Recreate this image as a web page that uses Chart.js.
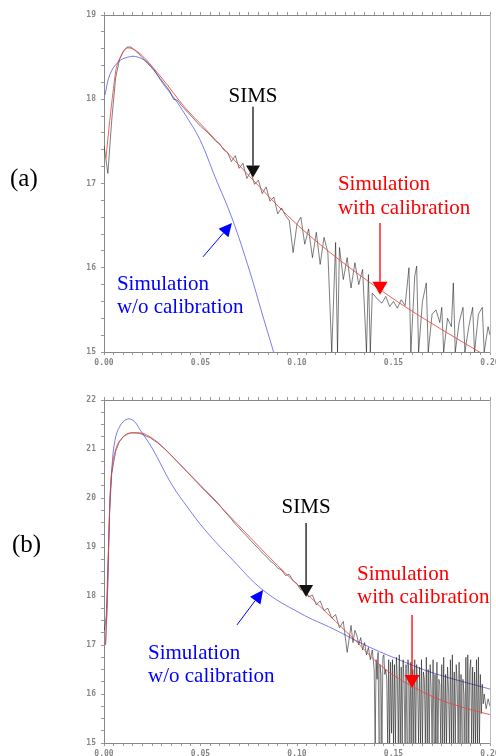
<!DOCTYPE html>
<html>
<head>
<meta charset="utf-8">
<script src="https://cdn.jsdelivr.net/npm/chart.js@4.4.1/dist/chart.umd.min.js"></script>
<style>
  body { margin: 0; background: #fff; width: 496px; height: 756px; position: relative; overflow: hidden; }
  canvas { position: absolute; left: 0; }
  #chartA { top: 0; }
  #chartB { top: 385px; }
  .tag { position: absolute; font-family: "Liberation Serif", "Times New Roman", serif; font-size: 25px; color: #000; }
</style>
</head>
<body>
<canvas id="chartA" width="496" height="378"></canvas>
<canvas id="chartB" width="496" height="371"></canvas>
<div class="tag" style="left:10px; top:164px">(a)</div>
<div class="tag" style="left:12px; top:530px">(b)</div>
<script>
// depth (um) vs log10 concentration

// (a)
const simsA = [
  [0.000,17.45],[0.002,17.12],[0.004,17.75],[0.006,18.25],[0.008,18.47],[0.010,18.57],[0.012,18.62],[0.014,18.62],
  [0.016,18.58],[0.018,18.54],[0.020,18.49],[0.022,18.44],[0.024,18.39],[0.026,18.34],[0.028,18.28],[0.030,18.22],
  [0.032,18.16],[0.034,18.10],[0.036,18.00],[0.038,17.99],[0.040,17.93],[0.042,17.88],[0.044,17.83],[0.046,17.78],
  [0.048,17.73],[0.050,17.68],[0.052,17.64],[0.054,17.60],[0.056,17.55],[0.058,17.50],[0.060,17.47],[0.062,17.40],
  [0.064,17.37],[0.066,17.26],[0.068,17.33],[0.070,17.18],[0.072,17.24],[0.074,17.06],[0.076,17.14],[0.078,16.99],
  [0.080,17.04],[0.082,16.88],[0.084,16.96],[0.086,16.79],[0.088,16.84],[0.090,16.64],[0.092,16.71],[0.094,16.62],
  [0.096,16.56],[0.098,16.18],[0.100,16.52],[0.102,16.60],[0.104,16.28],[0.106,16.46],[0.108,16.12],[0.110,16.42],
  [0.112,16.04],[0.114,16.36],[0.116,16.18],[0.118,15.00],[0.120,16.30],[0.121,15.00],[0.122,16.24],[0.124,15.86],
  [0.126,16.12],[0.128,15.76],[0.130,16.06],[0.132,15.80],[0.134,15.98],[0.136,15.00],[0.137,15.92],[0.138,15.00],
  [0.139,15.70],[0.142,15.62],[0.144,15.58],[0.146,15.66],[0.148,15.54],[0.150,15.60],[0.152,15.52],[0.154,15.62],
  [0.156,15.55],[0.158,16.00],[0.159,15.00],[0.161,15.90],[0.162,16.02],[0.163,15.00],[0.165,15.60],[0.167,15.82],
  [0.168,15.00],[0.170,15.45],[0.172,15.50],[0.174,15.35],[0.175,15.53],[0.176,15.00],[0.178,15.40],[0.180,15.30],
  [0.181,15.82],[0.182,15.00],[0.184,15.35],[0.186,15.53],[0.187,15.00],[0.189,15.30],[0.191,15.53],[0.192,15.00],
  [0.194,15.45],[0.196,15.53],[0.197,15.00],[0.199,15.30],[0.200,15.20]
];
const calA = [
  [0.001,17.30],[0.003,17.75],[0.0047,18.09],[0.0062,18.35],[0.0083,18.49],[0.0124,18.61],[0.0176,18.56],
  [0.030,18.25],[0.042,17.90],[0.052,17.66],[0.0756,17.08],[0.1016,16.48],[0.143,15.74],[0.193,15.02],[0.200,14.93]
];
const rawA = [
  [0.0005,18.05],[0.003,18.29],[0.0073,18.44],[0.0124,18.50],[0.0176,18.50],[0.0238,18.41],[0.0301,18.20],
  [0.0368,18.00],[0.0420,17.82],[0.0497,17.52],[0.0575,17.08],[0.0663,16.59],[0.0756,15.95],[0.0820,15.45],
  [0.0876,15.02],[0.0890,14.90]
];

// (b)
const simsB = [
  [0.0002,17.30],[0.0012,17.60],[0.002,18.60],[0.003,19.80],[0.004,20.50],[0.006,20.95],[0.008,21.15],[0.010,21.25],
  [0.012,21.30],[0.014,21.33],[0.016,21.33],[0.018,21.32],[0.020,21.30],[0.022,21.26],[0.024,21.23],[0.026,21.17],
  [0.028,21.12],[0.030,21.05],[0.032,20.98],[0.034,20.90],[0.036,20.82],[0.038,20.74],[0.040,20.66],[0.042,20.58],
  [0.044,20.50],[0.046,20.42],[0.048,20.34],[0.050,20.26],[0.052,20.18],[0.054,20.10],[0.056,20.02],[0.058,19.94],
  [0.060,19.85],[0.062,19.75],[0.064,19.66],[0.066,19.57],[0.068,19.47],[0.070,19.39],[0.072,19.30],[0.074,19.22],
  [0.076,19.13],[0.078,19.05],[0.080,18.97],[0.082,18.88],[0.084,18.81],[0.086,18.72],[0.088,18.66],[0.090,18.57],
  [0.092,18.53],[0.094,18.42],[0.096,18.44],[0.098,18.31],[0.100,18.25],[0.102,18.12],[0.104,18.14],[0.106,17.98],
  [0.108,18.02],[0.110,17.82],[0.112,17.90],[0.114,17.70],[0.116,17.75],[0.118,17.55],[0.120,17.62],[0.122,17.35],
  [0.124,17.48],[0.126,16.85],[0.128,17.40],[0.129,17.05],[0.130,17.30],[0.131,17.20],[0.132,17.00],[0.133,17.15],
  [0.134,16.90],[0.135,17.05],[0.136,16.80],[0.137,16.95],[0.138,16.70],[0.139,16.90],
  [0.1400,16.50],[0.1405,15.00],[0.1410,16.70],[0.1415,16.30],[0.1420,16.85],[0.1425,15.00],[0.1430,16.60],[0.1435,16.40],
  [0.1440,15.00],[0.1445,16.75],[0.1450,16.80],[0.1455,16.40],[0.1460,16.50],[0.1465,16.30],[0.1470,15.00],[0.1475,16.70],
  [0.1480,15.00],[0.1485,16.65],[0.1490,15.20],[0.1495,16.70],[0.1500,15.00],[0.1505,16.60],[0.1510,15.00],[0.1515,16.75],
  [0.1520,16.30],[0.1525,15.00],[0.1530,16.80],[0.1535,15.00],[0.1540,16.55],[0.1545,15.00],[0.1550,16.70],[0.1555,16.20],
  [0.1560,15.00],[0.1565,16.60],[0.1570,15.00],[0.1575,16.70],[0.1580,16.40],[0.1585,15.00],[0.1590,16.65],[0.1595,15.00],
  [0.1600,16.50],[0.1605,15.00],[0.1610,16.70],[0.1615,15.00],[0.1620,16.60],[0.1625,16.20],[0.1630,15.00],[0.1635,16.55],
  [0.1640,15.00],[0.1645,16.70],[0.1650,15.00],[0.1655,16.45],[0.1660,16.30],[0.1665,15.00],[0.1670,16.75],[0.1675,15.00],
  [0.1680,16.50],[0.1685,15.00],[0.1690,16.60],[0.1695,16.10],[0.1700,15.00],[0.1705,16.70],[0.1710,15.00],[0.1715,16.40],
  [0.1720,15.00],[0.1725,16.65],[0.1730,15.00],[0.1735,16.30],[0.1740,16.20],[0.1745,15.00],[0.1750,16.60],[0.1755,15.00],
  [0.1760,16.75],[0.1765,15.00],[0.1770,16.40],[0.1775,15.00],[0.1780,16.55],[0.1785,16.10],[0.1790,15.00],[0.1795,16.70],
  [0.1800,15.00],[0.1805,16.80],[0.1810,15.00],[0.1815,16.45],[0.1820,15.00],[0.1825,16.60],[0.1830,16.20],[0.1835,15.00],
  [0.1840,16.65],[0.1845,15.00],[0.1850,16.40],[0.1855,15.00],[0.1860,16.30],[0.1865,16.00],[0.1870,15.00],[0.1875,16.75],
  [0.1880,15.00],[0.1885,16.80],[0.1890,15.00],[0.1895,16.50],[0.1900,16.70],[0.1905,15.00],[0.1910,16.55],[0.1915,15.00],
  [0.1920,16.45],[0.1925,15.00],[0.1930,16.70],[0.1935,15.00],[0.1940,16.75],[0.1945,15.00],[0.1950,16.40],[0.1955,15.60],
  [0.1960,16.20],[0.1965,15.80],[0.1970,16.00],[0.1980,15.70],[0.1990,15.90],[0.2000,15.75]
];
const calB = [
  [0.0008,17.00],[0.0016,17.82],[0.003,19.86],[0.004,20.53],[0.0057,20.94],[0.0093,21.22],[0.0145,21.33],
  [0.0187,21.33],[0.025,21.22],[0.030,21.06],[0.040,20.66],[0.050,20.24],[0.060,19.84],[0.070,19.43],[0.080,19.02],
  [0.090,18.62],[0.100,18.24],[0.110,17.86],[0.120,17.48],[0.130,17.10],[0.140,16.70],[0.150,16.38],[0.160,16.15],
  [0.170,15.95],[0.180,15.80],[0.190,15.68],[0.200,15.58]
];
const rawB = [
  [0.0008,17.00],[0.0018,18.00],[0.003,19.86],[0.004,20.57],[0.0057,21.18],[0.0083,21.47],[0.012,21.61],
  [0.0155,21.57],[0.0187,21.39],[0.0249,21.02],[0.0352,20.27],[0.0435,19.80],[0.0523,19.35],[0.0668,18.73],
  [0.0824,18.12],[0.1016,17.65],[0.1187,17.33],[0.1363,16.98],[0.1534,16.69],[0.1705,16.43],[0.200,16.10]
];

const xTicks = { min: 0, max: 0.2, step: 0.005, labelEvery: 0.05 };

// annotations, in data units
const notesA = {
  texts: [
    { color: '#000', align: 'center', x: 0.0772, lines: [['SIMS', 17.97]] },
    { color: '#ff0000', align: 'left', x: 0.1212, lines: [['Simulation', 16.92], ['with calibration', 16.64]] },
    { color: '#0000ff', align: 'left', x: 0.0067, lines: [['Simulation', 15.74], ['w/o calibration', 15.46]] }
  ],
  arrows: [
    { color: '#111', width: 1.3, from: [0.0772, 17.91], to: [0.0772, 17.07], head: [12, 7] },
    { color: '#ff0000', width: 1.3, from: [0.143, 16.53], to: [0.143, 15.68], head: [13, 7.5] },
    { color: '#0000ff', width: 1, from: [0.0513, 16.13], to: [0.0663, 16.53], head: [13, 6.5] }
  ]
};
const notesB = {
  texts: [
    { color: '#000', align: 'center', x: 0.1047, lines: [['SIMS', 19.69]] },
    { color: '#ff0000', align: 'left', x: 0.1311, lines: [['Simulation', 18.33], ['with calibration', 17.86]] },
    { color: '#0000ff', align: 'left', x: 0.0228, lines: [['Simulation', 16.71], ['w/o calibration', 16.24]] }
  ],
  arrows: [
    { color: '#111', width: 1.3, from: [0.1047, 19.49], to: [0.1047, 17.98], head: [12, 7] },
    { color: '#ff0000', width: 1.3, from: [0.1596, 17.61], to: [0.1596, 16.12], head: [13, 7.5] },
    { color: '#0000ff', width: 1, from: [0.0689, 17.41], to: [0.0824, 18.12], head: [13, 6.5] }
  ]
};

const pts = arr => arr.map(p => ({ x: p[0], y: p[1] }));
const near = (v, m) => Math.abs(v / m - Math.round(v / m)) < 1e-6;

function fitTo(w, h) {
  return s => {
    if (w !== null) s.width = w;
    if (h !== null) s.height = h;
    s.paddingLeft = s.paddingRight = s.paddingTop = s.paddingBottom = 0;
  };
}

function notesPlugin(notes) {
  return {
    id: 'notes',
    afterDatasetsDraw(chart) {
      const { ctx } = chart;
      const sx = chart.scales.x, sy = chart.scales.y;
      const px = v => sx.getPixelForValue(v), py = v => sy.getPixelForValue(v);
      ctx.save();
      ctx.font = '21px "Liberation Serif", "Times New Roman", serif';
      ctx.textBaseline = 'alphabetic';
      notes.texts.forEach(t => {
        ctx.fillStyle = t.color;
        ctx.textAlign = t.align;
        t.lines.forEach(([s, yv]) => ctx.fillText(s, px(t.x), py(yv)));
      });
      notes.arrows.forEach(a => {
        const x0 = px(a.from[0]), y0 = py(a.from[1]);
        const x1 = px(a.to[0]), y1 = py(a.to[1]);
        const ang = Math.atan2(y1 - y0, x1 - x0);
        const [len, half] = a.head;
        const bx = x1 - len * Math.cos(ang), by = y1 - len * Math.sin(ang);
        ctx.strokeStyle = a.color;
        ctx.fillStyle = a.color;
        ctx.lineWidth = a.width;
        ctx.beginPath();
        ctx.moveTo(x0, y0);
        ctx.lineTo(bx, by);
        ctx.stroke();
        ctx.beginPath();
        ctx.moveTo(x1, y1);
        ctx.lineTo(bx + half * Math.sin(ang), by - half * Math.cos(ang));
        ctx.lineTo(bx - half * Math.sin(ang), by + half * Math.cos(ang));
        ctx.closePath();
        ctx.fill();
      });
      ctx.restore();
    }
  };
}

function makePanel(canvasId, sims, cal, raw, yMin, yMax, yStep, bottomH, notes) {
  const tickFont = { family: 'DejaVu Sans Mono', size: 8, weight: 'bold' };
  const line = (data, color, order) => ({
    data: pts(data), borderColor: color, borderWidth: 1, pointRadius: 0,
    tension: 0, order: order
  });
  const simsSet = line(sims, 'rgba(20,20,20,0.55)', 2);
  const calSet = line(cal, 'rgba(230,70,70,0.85)', 1);
  calSet.cubicInterpolationMode = 'monotone';
  const rawSet = line(raw, 'rgba(100,100,235,0.85)', 3);
  rawSet.tension = 0.4;

  return new Chart(document.getElementById(canvasId), {
    type: 'line',
    data: { datasets: [simsSet, calSet, rawSet] },
    options: {
      responsive: false,
      animation: false,
      events: [],
      layout: { padding: { left: 0, right: 6, top: 15, bottom: 0 } },
      plugins: { legend: { display: false }, tooltip: { enabled: false } },
      scales: {
        x: {
          type: 'linear', position: 'bottom', min: xTicks.min, max: xTicks.max,
          border: { color: '#888' },
          grid: { drawOnChartArea: false, tickLength: 3, color: '#999' },
          ticks: {
            stepSize: xTicks.step, autoSkip: false, maxRotation: 0, padding: 3, color: '#888', font: tickFont,
            callback: v => near(v, xTicks.labelEvery) ? v.toFixed(2) : ''
          },
          afterFit: fitTo(null, bottomH)
        },
        x2: {
          type: 'linear', position: 'top', min: xTicks.min, max: xTicks.max,
          border: { color: '#888' },
          grid: { drawOnChartArea: false, tickLength: 3, color: '#999' },
          ticks: { stepSize: xTicks.step, autoSkip: false, callback: () => '' },
          afterFit: fitTo(null, 0)
        },
        y: {
          type: 'linear', position: 'left', min: yMin, max: yMax,
          border: { color: '#888' },
          grid: { drawOnChartArea: false, tickLength: 3, color: '#999' },
          ticks: {
            stepSize: yStep, autoSkip: false, padding: 5, color: '#888', font: tickFont,
            callback: v => near(v, 1) ? String(Math.round(v)) : ''
          },
          afterFit: fitTo(104, null)
        },
        y2: {
          type: 'linear', position: 'right', min: yMin, max: yMax,
          border: { color: '#bbb', dash: [2, 2] },
          grid: { drawOnChartArea: false, drawTicks: false },
          ticks: { display: false },
          afterFit: fitTo(0, null)
        }
      }
    },
    plugins: [notesPlugin(notes)]
  });
}

makePanel('chartA', simsA, calA, rawA, 15, 19, 0.2, 26, notesA);
makePanel('chartB', simsB, calB, rawB, 15, 22, 0.25, 13, notesB);
</script>
</body>
</html>
